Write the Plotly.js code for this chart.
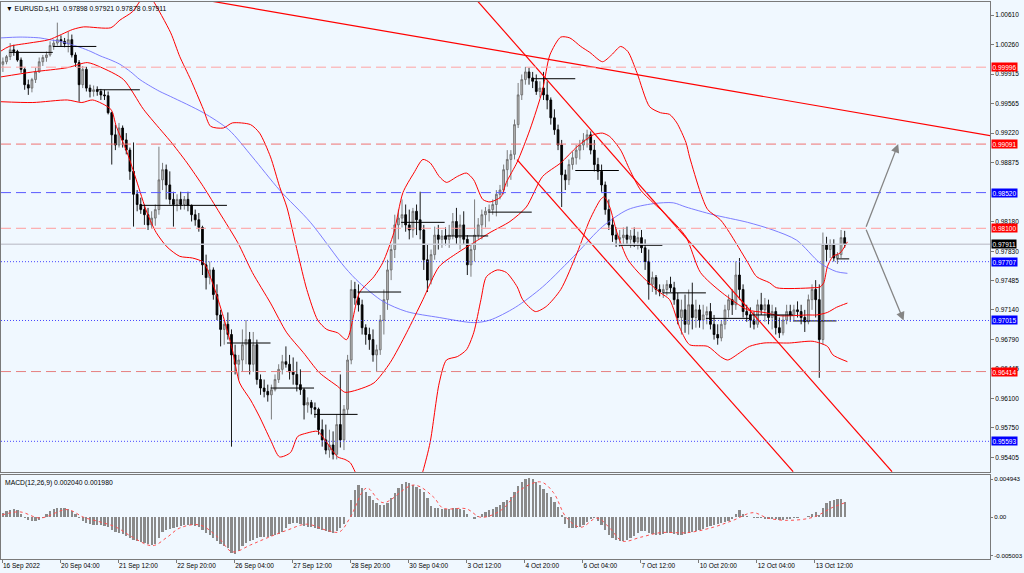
<!DOCTYPE html>
<html><head><meta charset="utf-8">
<script src="https://cdn.plot.ly/plotly-3.0.1.min.js"></script>
<style>html,body{margin:0;padding:0;background:#F0F8FF;overflow:hidden}#chart{width:1024px;height:573px}</style>
</head><body><div id="chart"></div>
<script>
// ---------- DATA (prices in units of 0.0001, two-hour candles of EURUSD) ----------
const openPips = [10003,10006,10012,10020,10018,10008,9997,9979,9975,9985,
9994,10006,10011,10014,10025,10028,10032,10030,10027,10032,
10014,10005,9979,9997,9975,9971,9973,9971,9967,9966,
9946,9920,9908,9928,9914,9902,9877,9850,9838,9832,
9826,9814,9822,9832,9867,9879,9861,9844,9838,9844,
9838,9844,9837,9826,9820,9811,9767,9752,9761,9732,
9708,9691,9697,9685,9661,9650,9655,9673,9679,9650,
9673,9632,9622,9618,9614,9620,9632,9644,9653,9650,
9641,9638,9626,9620,9602,9605,9599,9597,9573,9561,
9549,9555,9544,9579,9561,9597,9655,9738,9728,9720,
9693,9685,9679,9661,9667,9702,9726,9761,9785,9814,
9822,9826,9814,9808,9830,9820,9808,9773,9749,9779,
9802,9797,9801,9797,9802,9818,9799,9814,9797,9767,
9785,9802,9814,9826,9830,9832,9838,9850,9855,9879,
9891,9897,9932,9967,9985,9994,9987,9983,9971,9975,
9967,9961,9940,9926,9908,9873,9867,9885,9893,9902,
9908,9914,9920,9902,9885,9877,9861,9832,9814,9802,
9797,9799,9802,9797,9801,9794,9799,9787,9771,9744,
9752,9738,9735,9738,9744,9740,9726,9705,9714,9697,
9720,9705,9714,9702,9708,9712,9697,9685,9681,9697,
9714,9726,9720,9755,9738,9712,9708,9702,9697,9720,
9714,9720,9705,9712,9693,9687,9702,9712,9708,9714,
9712,9705,9700,9726,9738,9726,9679,9791,9785,9791,
9775,9779,9799];
const highPips = [10011,10014,10028,10026,10020,10011,9999,9985,9987,9999,
10011,10014,10018,10030,10032,10052,10037,10034,10041,10038,
10017,10008,10001,10000,9979,9978,9977,9974,9973,9971,
9947,9932,9934,9931,9922,9905,9911,9855,9846,9838,
9834,9830,9838,9906,9887,9885,9877,9853,9850,9853,
9848,9853,9838,9832,9828,9813,9779,9771,9764,9744,
9714,9702,9711,9691,9673,9661,9691,9702,9688,9688,
9679,9638,9632,9626,9626,9638,9650,9661,9671,9661,
9658,9653,9644,9622,9611,9608,9605,9599,9585,9579,
9573,9571,9591,9638,9602,9661,9749,9747,9744,9726,
9697,9693,9691,9673,9708,9738,9773,9791,9826,9832,
9844,9838,9832,9834,9838,9853,9814,9791,9785,9812,
9814,9808,9811,9814,9828,9834,9826,9830,9802,9791,
9844,9822,9832,9835,9838,9844,9855,9861,9885,9902,
9902,9938,9981,9991,10000,9999,9994,9991,9983,9994,
9983,9964,9950,9932,9914,9879,9891,9900,9908,9914,
9922,9926,9924,9914,9893,9885,9865,9844,9822,9811,
9808,9811,9812,9808,9811,9806,9808,9797,9785,9759,
9755,9744,9744,9749,9753,9747,9734,9726,9732,9738,
9746,9726,9720,9720,9718,9722,9708,9697,9702,9720,
9732,9738,9771,9775,9744,9720,9717,9712,9726,9734,
9728,9726,9720,9717,9705,9708,9720,9720,9720,9724,
9720,9714,9732,9744,9749,9744,9805,9800,9797,9797,
9782,9808,9807];
const lowPips = [9994,10003,10008,10013,10006,9993,9973,9967,9970,9981,
9993,10001,10006,10012,10020,10025,10024,10023,10017,10011,
10000,9959,9975,9971,9964,9965,9966,9961,9961,9944,
9885,9902,9905,9905,9897,9867,9812,9830,9827,9814,
9808,9810,9813,9826,9855,9844,9838,9812,9830,9832,
9832,9830,9818,9813,9806,9755,9738,9744,9726,9702,
9671,9673,9679,9553,9638,9632,9641,9650,9638,9641,
9626,9614,9611,9606,9585,9618,9628,9638,9646,9632,
9626,9618,9614,9585,9593,9591,9587,9567,9553,9544,
9540,9538,9538,9552,9549,9591,9650,9720,9712,9685,
9673,9667,9653,9641,9661,9685,9714,9749,9775,9797,
9811,9806,9797,9799,9802,9797,9761,9735,9744,9773,
9785,9787,9790,9787,9797,9791,9785,9791,9755,9753,
9771,9797,9797,9811,9818,9826,9824,9844,9850,9859,
9867,9891,9928,9961,9979,9979,9975,9967,9964,9961,
9950,9932,9920,9902,9835,9855,9861,9879,9885,9891,
9902,9905,9897,9877,9867,9853,9826,9808,9794,9788,
9788,9791,9791,9787,9788,9785,9781,9761,9726,9735,
9732,9730,9728,9731,9735,9720,9697,9685,9687,9685,
9691,9693,9693,9691,9697,9691,9679,9673,9677,9691,
9705,9708,9714,9726,9705,9700,9693,9691,9693,9708,
9700,9697,9691,9685,9681,9684,9697,9700,9702,9705,
9697,9688,9697,9714,9705,9634,9673,9771,9775,9771,
9768,9775,9787];
const closePips = [10006,10012,10020,10018,10008,9997,9979,9975,9985,9994,
10006,10011,10014,10025,10028,10032,10030,10027,10032,10014,
10005,9979,9997,9975,9971,9973,9971,9967,9966,9946,
9920,9908,9928,9914,9902,9877,9850,9838,9832,9826,
9814,9822,9832,9867,9879,9861,9844,9838,9844,9838,
9844,9837,9826,9820,9811,9767,9752,9761,9732,9708,
9691,9697,9685,9661,9650,9655,9673,9679,9650,9673,
9632,9622,9618,9614,9620,9632,9644,9653,9650,9641,
9638,9626,9620,9602,9605,9599,9597,9573,9561,9549,
9555,9544,9579,9561,9597,9655,9738,9728,9720,9693,
9685,9679,9661,9667,9702,9726,9761,9785,9814,9822,
9826,9814,9808,9830,9820,9808,9773,9749,9779,9802,
9797,9801,9797,9802,9818,9799,9814,9797,9767,9785,
9802,9814,9826,9830,9832,9838,9850,9855,9879,9891,
9897,9932,9967,9985,9994,9987,9983,9971,9975,9967,
9961,9940,9926,9908,9873,9867,9885,9893,9902,9908,
9914,9920,9902,9885,9877,9861,9832,9814,9802,9797,
9799,9802,9797,9801,9794,9799,9787,9771,9744,9752,
9738,9735,9738,9744,9740,9726,9705,9714,9697,9720,
9705,9714,9702,9708,9712,9697,9685,9681,9697,9714,
9726,9720,9755,9738,9712,9708,9702,9697,9720,9714,
9720,9705,9712,9693,9687,9702,9712,9708,9714,9712,
9705,9700,9726,9738,9726,9679,9791,9785,9791,9775,
9779,9799,9791];

// MACD(12,26,9) main values per candle, units of 0.0001
const macdMain = [5,8,10,11,9,4,-1,-3.5,-5,-5,
-3.5,-1,4,8,11,12,12,12,11,8,
4,-1,-5,-7,-9,-10,-10,-10,-11,-13,
-17,-19,-20,-22,-24,-27,-30,-31,-32,-33,
-35,-36,-35,-27,-19,-17,-15,-14,-13,-11,
-10,-10,-10,-11,-13,-17,-20,-23,-27,-31,
-35,-37,-40,-46,-48,-44,-37,-33,-31,-30,
-27,-26,-26,-26,-24,-23,-22,-19,-14,-9,
-7,-7,-9,-11,-13,-13,-14,-15,-17,-18,
-19,-20,-18,-14,-9,0,22,35,42,38,
33,28,22,19,16,16,19,25,32,38,
43,46,45,42,39,37,33,25,15,12,
12,11,11,11,12,12,11,10,4,0,
-2,2,4,7,10,11,13,16,20,22,
26,33,41,46,50,51,50,46,42,37,
32,26,20,13,3,-9,-14,-14,-14,-13,
-10,-6,-2,-1,-5,-10,-17,-23,-27,-30,
-31,-31,-30,-27,-24,-20,-18,-18,-20,-22,
-23,-23,-22,-20,-20,-22,-23,-23,-22,-20,
-19,-18,-17,-15,-13,-11,-10,-9,-7,-6,
-5,-2,4,10,4,2,0,-1,-1,-1,
-2,-2,-2,-2,-3,-3,-2,-2,-1,-1,
0,0,2,4,7,3,12,19,21,22,
24,24,20];
// MACD signal line (hour index, value in 0.0001)
const signalX = [0,10,21,36,45,54,63,72,83,91,98,109,119,127,137,146,157,168,179,186,192,201,210,227,238,243,256,264,275,286,297,304,311,319,328,335,342,352,363,378,392,403,414,422,433,447,458,466];
const signalV = [3,7,-1,10,0,-6,-13,-26,-37,-26,-14,-10,-26,-45,-36,-27,-17,-9,-17,-19,0,38,19,42,26,12,11,0,9,36,46,32,0,-13,-1,-14,-31,-26,-20,-20,-13,-4,6,-1,-4,0,13,20];

// Bollinger bands (hour index / price in 0.0001)
const bbUpX = [-1,4,15,26,39,45,60,65,72,80,83,93,98,104,111,115,122,127,137,142,148,153,157,163,168,174,179,185,190,197,205,210,216,221,227,232,236,241,245,251,256,260,265,269,275,278,284,291,298,302,308,313,319,324,331,336,341,345,350,357,363,368,372,377,379,385,389,396,401,411,416,423,427,447,451,453,455,458,462,466];
const bbUpP = [10018,10024,10028,10032,10044,10047,10046,10055,10065,10088,10079,10040,10012,9985,9950,9930,9928,9934,9932,9922,9894,9859,9835,9781,9738,9702,9691,9687,9679,9734,9753,9770,9805,9852,9875,9891,9887,9871,9864,9871,9875,9867,9844,9841,9847,9864,9888,9926,9973,10014,10035,10034,10024,10017,10006,10014,10024,10018,9993,9953,9946,9944,9934,9911,9894,9852,9832,9820,9805,9770,9753,9746,9740,9740,9741,9746,9765,9777,9781,9794];
const bbMidX = [-1,17,36,47,54,67,78,89,93,102,111,120,130,138,148,157,166,175,185,189,196,205,214,223,232,241,251,260,269,280,289,298,308,317,326,331,335,341,346,352,359,367,377,385,397,411,420,429,444,449,455,460,466];
const bbMidP = [9988,9994,9999,10005,10000,9985,9950,9922,9912,9887,9859,9828,9793,9758,9722,9687,9664,9640,9624,9617,9620,9628,9652,9687,9726,9765,9781,9793,9805,9818,9835,9871,9887,9906,9920,9922,9918,9902,9879,9855,9840,9824,9800,9758,9734,9714,9711,9707,9708,9708,9711,9717,9722];
const bbLoX = [-1,17,36,44,50,60,63,69,74,80,85,91,98,105,111,116,122,127,131,137,142,148,153,159,163,168,174,179,185,189,192,196,203,214,225,232,236,241,245,251,256,260,264,267,273,278,284,287,294,300,308,317,324,330,332,335,339,345,353,363,368,374,379,389,396,400,407,412,420,434,447,455,458,466];
const bbLoP = [9959,9958,9961,9958,9961,9950,9930,9899,9867,9828,9805,9788,9777,9775,9770,9746,9706,9667,9628,9608,9588,9561,9541,9546,9565,9569,9571,9558,9541,9538,9534,9517,9485,9461,9479,9524,9558,9628,9655,9659,9667,9687,9726,9753,9761,9758,9741,9726,9712,9718,9738,9781,9820,9844,9847,9835,9805,9773,9753,9734,9726,9691,9673,9671,9659,9655,9664,9671,9675,9675,9677,9671,9661,9653];
// Moving average (blue)
const maX = [-1,10,21,26,32,37,43,49,54,60,65,71,76,82,87,93,111,125,138,153,170,189,197,210,223,241,260,269,283,298,317,331,345,359,370,377,392,411,425,438,451,460,466];
const maP = [10034,10035,10034,10032,10030,10027,10023,10018,10013,10008,10003,9994,9985,9977,9971,9965,9946,9926,9894,9855,9817,9764,9746,9724,9712,9705,9699,9702,9717,9741,9781,9812,9832,9839,9840,9835,9826,9817,9808,9796,9769,9759,9757];

// Trend lines: [hour index start, end], [price start, end]
const trendA_X = [110.8, 544.7], trendA_P = [1.00790, 0.99190];
const trendB_X = [262.4, 490.6], trendB_P = [1.00767, 0.95236];
const trendC_X = [283.9, 436.1], trendC_P = [0.98907, 0.95236];

// Daily open lines
const dayStart = [4,28,52,76,100,124,148,172,196,220,244,268,292,316,340,364,388,412,436,460];
const dayEnd   = [28,52,76,100,124,148,172,196,220,244,268,292,316,340,364,388,412,436,460,467];
const dayOpen  = [1.0017,1.0024,0.9973,0.9837,0.9837,0.9675,0.9622,0.9591,0.9735,0.9817,0.9801,0.9829,0.9986,0.9878,0.9790,0.9734,0.9704,0.9708,0.9701,0.9774];

// Horizontal levels
const redLevels = [0.99996, 0.99091, 0.98100, 0.96414];
const blueDashLevels = [0.98520];
const blueDotLevels = [0.97707, 0.97015, 0.95593];
const currentPrice = 0.97911;

// Projection arrows (tail and heads: hour index, price)
const arrowTail = [476, 0.98100];
const arrowHeads = [[494, 0.99091], [497, 0.97015]];

// Axes
const priceTicks = [1.00610,1.00260,0.99915,0.99565,0.99220,0.98875,0.98180,0.97830,0.97485,0.97140,0.96790,0.96445,0.96100,0.95750,0.95405];
const timeTickIdx = [0,32,64,96,128,160,192,224,256,288,320,352,384,416,448];
const timeTickText = ['16 Sep 2022','20 Sep 04:00','21 Sep 12:00','22 Sep 20:00','26 Sep 04:00','27 Sep 12:00','28 Sep 20:00','30 Sep 04:00','3 Oct 12:00','4 Oct 20:00','6 Oct 04:00','7 Oct 12:00','10 Oct 20:00','12 Oct 04:00','13 Oct 12:00'];
const macdTicks = [0.004943, 0, -0.005003];
const macdTickText = ['0.004943','0.00','-0.005003'];
const headerVals = [0.97898, 0.97921, 0.97878, 0.97911];
const macdHeaderVals = [0.002040, 0.001980];

// ---------- CHART ----------
const U = 1e-4;
const toP = a => a.map(v => +(v * U).toFixed(5));
const candleX = openPips.map((_, k) => 2 * k + 0.5);
const FONT = 'Liberation Sans, Arial, sans-serif';
const XR = [-0.55, 544.6];

const traces = [];
traces.push({type:'scatter', mode:'lines', x:maX, y:toP(maP), line:{color:'#6f6fff', width:0.9, shape:'spline', smoothing:0.8}, hoverinfo:'skip'});
traces.push({type:'candlestick', x:candleX, open:toP(openPips), high:toP(highPips), low:toP(lowPips), close:toP(closePips),
  increasing:{line:{color:'#6e6e6e', width:0.9}, fillcolor:'#bcbcbc'},
  decreasing:{line:{color:'#000000', width:0.9}, fillcolor:'#000000'},
  whiskerwidth:0, hoverinfo:'skip', xaxis:'x', yaxis:'y'});
[[bbUpX,bbUpP],[bbMidX,bbMidP],[bbLoX,bbLoP]].forEach(([x,p]) => {
  traces.push({type:'scatter', mode:'lines', x:x, y:toP(p), line:{color:'#ff0000', width:1, shape:'spline', smoothing:0.7}, hoverinfo:'skip'});
});
[[trendA_X,trendA_P],[trendB_X,trendB_P],[trendC_X,trendC_P]].forEach(([x,p]) => {
  traces.push({type:'scatter', mode:'lines', x:x, y:p, line:{color:'#ff0000', width:1.2}, hoverinfo:'skip'});
});
const dx = [], dy = [];
dayStart.forEach((s, i) => { dx.push(s, dayEnd[i], null); dy.push(dayOpen[i], dayOpen[i], null); });
traces.push({type:'scatter', mode:'lines', x:dx, y:dy, line:{color:'#000000', width:1}, hoverinfo:'skip'});

traces.push({type:'bar', x:candleX, y:macdMain.map(v => v * U), width:1.25, marker:{color:'#8a8a8a', line:{width:0}}, xaxis:'x2', yaxis:'y2', hoverinfo:'skip'});
traces.push({type:'scatter', mode:'lines', x:signalX, y:signalV.map(v => v * U), line:{color:'#ff5050', width:1, dash:'dot', shape:'spline'}, xaxis:'x2', yaxis:'y2', hoverinfo:'skip'});

const shapes = [];
const hline = (y, color, dash, w) => shapes.push({type:'line', xref:'paper', x0:0, x1:1, yref:'y', y0:y, y1:y, line:{color:color, width:w||1, dash:dash}});
hline(currentPrice, '#c9ccd6', 'solid', 1.5);
const redCols = ['#ffa3a3', '#ef7373', '#ff9c9c', '#e58080'];
redLevels.forEach((lv, i) => hline(lv, redCols[i], '10px,5px'));
blueDashLevels.forEach(lv => hline(lv, '#5a5aff', '10px,5px'));
blueDotLevels.forEach(lv => hline(lv, '#4646ff', '1px,2px'));

const annotations = [];
const box = (y, bg) => annotations.push({xref:'paper', x:1, xanchor:'left', xshift:1, yref:'y', y:y, yanchor:'middle', text:y.toFixed(5), showarrow:false, bgcolor:bg, borderpad:0.5, font:{family:FONT, size:6.5, color:'#ffffff'}});
redLevels.forEach(lv => box(lv, '#ff0000'));
blueDashLevels.concat(blueDotLevels).forEach(lv => box(lv, '#0000ff'));
box(currentPrice, '#000000');
arrowHeads.forEach(h => annotations.push({xref:'x', yref:'y', x:h[0], y:h[1], axref:'x', ayref:'y', ax:arrowTail[0], ay:arrowTail[1], showarrow:true, arrowhead:2, arrowsize:1.3, arrowwidth:1.3, arrowcolor:'#858585', text:''}));
annotations.push({xref:'paper', yref:'paper', x:0, y:1, xanchor:'left', yanchor:'top', xshift:3, yshift:-1, showarrow:false,
  text:'▼ EURUSD.s,H1  ' + headerVals.map(v => v.toFixed(5)).join(' '), font:{family:FONT, size:6.8, color:'#000'}});
annotations.push({xref:'paper', yref:'paper', x:0, y:0.1508, xanchor:'left', yanchor:'top', xshift:2, yshift:-2, showarrow:false,
  text:'MACD(12,26,9) ' + macdHeaderVals.map(v => v.toFixed(6)).join(' '), font:{family:FONT, size:6.8, color:'#000'}});

const axLine = {showline:true, mirror:true, linecolor:'#7a7a7a', linewidth:1, showgrid:false, zeroline:false};
const tickFont = {family:FONT, size:6.5, color:'#000'};
const layout = {
  width:1024, height:573, showlegend:false,
  margin:{l:1, r:34, t:2, b:14, pad:0},
  paper_bgcolor:'#F0F8FF', plot_bgcolor:'#F0F8FF',
  xaxis:Object.assign({}, axLine, {domain:[0,1], range:XR, anchor:'y', showticklabels:false, ticks:'', rangeslider:{visible:false}}),
  yaxis:Object.assign({}, axLine, {domain:[0.1562,1], range:[0.95232,1.00763], side:'right', tickmode:'array', tickvals:priceTicks, ticktext:priceTicks.map(v=>v.toFixed(5)), ticks:'outside', ticklen:3, tickcolor:'#7a7a7a', tickfont:tickFont}),
  xaxis2:Object.assign({}, axLine, {domain:[0,1], range:XR, anchor:'y2', tickmode:'array', tickvals:timeTickIdx, ticktext:timeTickText, ticks:'outside', ticklen:3, tickcolor:'#7a7a7a', ticklabelposition:'outside right', tickfont:tickFont}),
  yaxis2:Object.assign({}, axLine, {domain:[0,0.1508], range:[-0.005433,0.005503], side:'right', anchor:'x2', tickmode:'array', tickvals:macdTicks, ticktext:macdTickText, ticks:'outside', ticklen:2, tickcolor:'#7a7a7a', tickfont:{family:FONT, size:6.2, color:'#000'}}),
  shapes:shapes, annotations:annotations, bargap:0
};
Plotly.newPlot('chart', traces, layout, {displayModeBar:false, staticPlot:true});
</script></body></html>
